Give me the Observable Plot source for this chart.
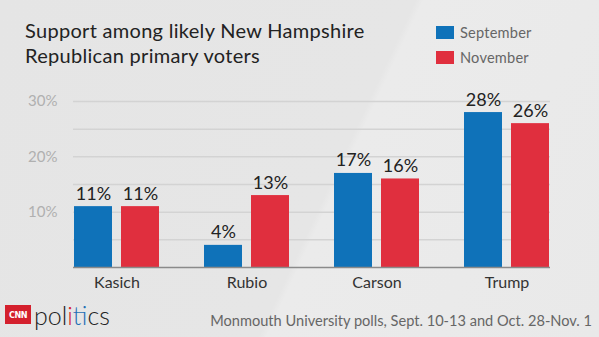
<!DOCTYPE html>
<html>
<head>
<meta charset="utf-8">
<script src="https://cdn.jsdelivr.net/npm/d3@7"></script>
<script src="https://cdn.jsdelivr.net/npm/@observablehq/plot@0.6"></script>
<style>
  html, body { margin: 0; padding: 0; }
  body { width: 599px; height: 337px; overflow: hidden; }
  #wrap {
    position: relative; width: 599px; height: 337px; overflow: hidden;
    background: linear-gradient(115deg, #e5e5e5 0%, #e6e6e6 55%, #ebebeb 56%, #e9e9e9 100%);
    font-family: Lato, "Open Sans", sans-serif;
  }
  #title { position: absolute; left: 25px; top: 18px; font-size: 20px; line-height: 25px; color: #222; letter-spacing: 0.3px; }
  .sw { position: absolute; left: 436px; width: 18px; height: 13px; }
  .lt { position: absolute; left: 460px; font-size: 14.6px; line-height: 18px; color: #666; letter-spacing: 0.2px; }
  #chart { position: absolute; left: 0; top: 85px; }
  #logo { position: absolute; left: 5px; top: 305px; width: 26px; height: 19px; background: #d4202d; color: #fff;
          font: bold 9px "DejaVu Sans Condensed", sans-serif; display: flex; align-items: center; justify-content: center; letter-spacing: -0.5px; }
  #pol { position: absolute; left: 34px; top: 300px; font-size: 25px; font-weight: 300; color: #222; }
  #src { position: absolute; right: 7px; top: 312px; font-size: 14.6px; color: #666; }
</style>
</head>
<body>
<div id="wrap">
  <div id="title">Support among likely New Hampshire<br>Republican primary voters</div>
  <div class="sw" style="top:26px;background:#0f72b9"></div>
  <div class="lt" style="top:23.5px">September</div>
  <div class="sw" style="top:51px;background:#e02f3e"></div>
  <div class="lt" style="top:48.5px">November</div>
  <div id="chart"></div>
  <div id="logo">CNN</div>
  <div id="pol">pol<span style="color:#d4202d">i</span><span style="color:#1f6fb5">t</span><span style="color:#d4202d">i</span>cs</div>
  <div id="src">Monmouth University polls, Sept. 10-13 and Oct. 28-Nov. 1</div>
</div>
<script>
const candidates = ["Kasich", "Rubio", "Carson", "Trump"];
const september = [11, 4, 17, 28];
const november = [11, 13, 16, 26];
const gridValues = [5, 10, 15, 20, 25, 30];
const tickValues = [10, 20, 30];

const sep = candidates.map((c, i) => ({candidate: c, value: september[i]}));
const nov = candidates.map((c, i) => ({candidate: c, value: november[i]}));

const blue = "#0f72b9", red = "#e02f3e";

const chart = Plot.plot({
  width: 599,
  height: 215,
  marginLeft: 73,
  marginRight: 49,
  marginTop: 16,
  marginBottom: 33,
  style: {background: "transparent", fontFamily: "Lato, 'Open Sans', sans-serif"},
  x: {domain: candidates, paddingInner: 0.3495, paddingOuter: 0, label: null},
  y: {domain: [0, 30], label: null},
  marks: [
    Plot.ruleY(gridValues, {stroke: "#d3d3d3", strokeWidth: 1.5}),
    Plot.axisY({ticks: tickValues, tickFormat: d => d + "%", tickSize: 0, tickPadding: 16, fontSize: 15, fill: "#b0b0b0"}),
    Plot.axisX({tickSize: 0, tickPadding: 9, fontSize: 16, fill: "#333"}),
    Plot.barY(sep, {x: "candidate", y: "value", fill: blue, insetRight: 47}),
    Plot.barY(nov, {x: "candidate", y: "value", fill: red, insetLeft: 47}),
    Plot.ruleY([0], {stroke: "#8a8a8a", strokeWidth: 1.5}),
    Plot.text(sep, {x: "candidate", y: "value", text: d => d.value + "%", dx: -23.5, dy: -7, lineAnchor: "bottom", fontSize: 18, fill: "#222"}),
    Plot.text(nov, {x: "candidate", y: "value", text: d => d.value + "%", dx: 23.5, dy: -7, lineAnchor: "bottom", fontSize: 18, fill: "#222"})
  ]
});
document.getElementById("chart").appendChild(chart);
</script>
</body>
</html>
